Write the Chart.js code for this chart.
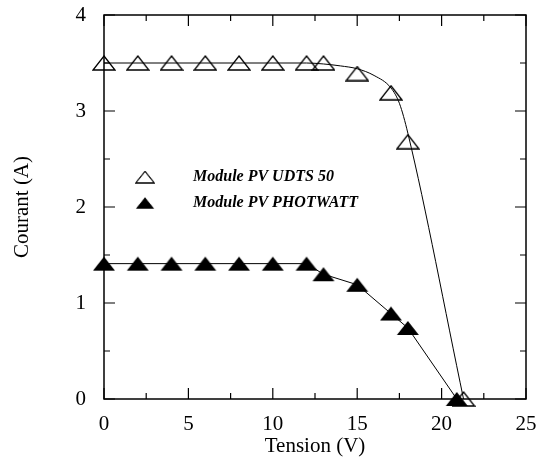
<!DOCTYPE html>
<html>
<head>
<meta charset="utf-8">
<script src="https://cdn.jsdelivr.net/npm/chart.js@4.4.0/dist/chart.umd.min.js"></script>
<style>
  html, body { margin: 0; padding: 0; background: #fff; }
</style>
</head>
<body>
<canvas id="chart" width="538" height="459"></canvas>
<script>
// measured points, Module PV UDTS 50 (open triangles)
const udtsV = [0, 2, 4, 6, 8, 10, 12, 13, 15, 17, 18, 21.3];
const udtsI = [3.5, 3.5, 3.5, 3.5, 3.5, 3.5, 3.5, 3.5, 3.39, 3.19, 2.68, 0];
// fitted curve drawn through the UDTS points
const udtsFitV = [0, 12, 13, 14, 15, 16, 17, 17.5, 18, 21.3];
const udtsFitI = [3.5, 3.5, 3.49, 3.47, 3.44, 3.37, 3.24, 3.08, 2.77, 0];
// measured points, Module PV PHOTWATT (filled triangles)
const photV = [0, 2, 4, 6, 8, 10, 12, 13, 15, 17, 18, 20.9];
const photI = [1.41, 1.41, 1.41, 1.41, 1.41, 1.41, 1.41, 1.3, 1.19, 0.89, 0.74, 0];

const seriesLabels = ['Module PV UDTS 50', 'Module PV PHOTWATT'];
const xMin = 0, xMax = 25, xStep = 5, xMinorStep = 2.5;
const yMin = 0, yMax = 4, yStep = 1, yMinorStep = 0.5;

const serif = "'Liberation Serif', 'Times New Roman', serif";

// triangle marker images
function triangle(w, h, filled) {
    const c = document.createElement('canvas');
    c.width = w;
    c.height = h;
    const g = c.getContext('2d');
    g.beginPath();
    g.moveTo(w / 2, 1);
    g.lineTo(w - 1, h - 1);
    g.lineTo(1, h - 1);
    g.closePath();
    if (filled) {
        g.fillStyle = '#000';
        g.fill();
    } else {
        g.strokeStyle = '#000';
        g.lineWidth = 1.3;
        g.stroke();
    }
    return c;
}
const openTri = triangle(24, 16, false);
const fullTri = triangle(24, 16, true);

const toPoints = (xs, ys) => xs.map((v, i) => ({ x: v, y: ys[i] }));

// box + inward ticks on all four sides
const framePlugin = {
    id: 'frame',
    afterDatasetsDraw(chart) {
        const { ctx, chartArea: a, scales: { x, y } } = chart;
        ctx.save();
        ctx.strokeStyle = '#000';
        ctx.lineWidth = 1.5;
        ctx.strokeRect(a.left, a.top, a.right - a.left, a.bottom - a.top);
        ctx.lineWidth = 1.2;
        ctx.beginPath();
        for (let v = xMin; v <= xMax + 1e-9; v += xMinorStep) {
            const px = x.getPixelForValue(v);
            const len = Math.abs(v % xStep) < 1e-9 ? 11 : 6;
            ctx.moveTo(px, a.bottom); ctx.lineTo(px, a.bottom - len);
            ctx.moveTo(px, a.top); ctx.lineTo(px, a.top + len);
        }
        for (let v = yMin; v <= yMax + 1e-9; v += yMinorStep) {
            const py = y.getPixelForValue(v);
            const len = Math.abs(v % yStep) < 1e-9 ? 11 : 6;
            ctx.moveTo(a.left, py); ctx.lineTo(a.left + len, py);
            ctx.moveTo(a.right, py); ctx.lineTo(a.right - len, py);
        }
        ctx.stroke();
        ctx.restore();
    }
};

// legend inside the plot area
const legendPlugin = {
    id: 'insideLegend',
    afterDraw(chart) {
        const { ctx, chartArea: a } = chart;
        const imgs = [openTri, fullTri];
        ctx.save();
        ctx.fillStyle = '#000';
        ctx.font = "italic bold 16px " + serif;
        ctx.textBaseline = 'middle';
        seriesLabels.forEach((label, i) => {
            const cy = a.top + 162 + i * 26;
            ctx.drawImage(imgs[i], a.left + 31, cy - 6.5, 20, 13);
            ctx.fillText(label, a.left + 89, cy);
        });
        ctx.restore();
    }
};

new Chart(document.getElementById('chart'), {
    type: 'scatter',
    data: {
        datasets: [
            {
                label: seriesLabels[0],
                data: toPoints(udtsV, udtsI),
                showLine: false,
                pointStyle: openTri,
                pointRadius: 10,
                clip: false,
            },
            {
                label: 'fit',
                data: toPoints(udtsFitV, udtsFitI),
                showLine: true,
                borderColor: '#000',
                borderWidth: 1,
                pointRadius: 0,
                cubicInterpolationMode: 'monotone',
            },
            {
                label: seriesLabels[1],
                data: toPoints(photV, photI),
                showLine: true,
                borderColor: '#000',
                borderWidth: 1,
                pointStyle: fullTri,
                pointRadius: 10,
                clip: false,
            },
        ],
    },
    options: {
        responsive: false,
        animation: false,
        layout: {
            padding: { top: 15, right: 12, left: 0, bottom: 0 },
        },
        plugins: {
            legend: { display: false },
            tooltip: { enabled: false },
        },
        scales: {
            x: {
                type: 'linear',
                min: xMin,
                max: xMax,
                grid: { display: false },
                border: { display: false },
                ticks: {
                    stepSize: xStep,
                    color: '#000',
                    padding: 5,
                    font: { family: serif, size: 21 },
                },
                title: {
                    display: true,
                    text: 'Tension (V)',
                    color: '#000',
                    padding: { top: 0, bottom: 0 },
                    font: { family: serif, size: 21 },
                },
                afterFit(scale) {
                    scale.height = 60;
                    scale.paddingLeft = 0;
                    scale.paddingRight = 0;
                },
            },
            y: {
                type: 'linear',
                min: yMin,
                max: yMax,
                grid: { display: false },
                border: { display: false },
                ticks: {
                    stepSize: yStep,
                    color: '#000',
                    padding: 10,
                    font: { family: serif, size: 21 },
                },
                title: {
                    display: true,
                    text: 'Courant (A)',
                    color: '#000',
                    padding: { top: 10, bottom: 0 },
                    font: { family: serif, size: 21 },
                },
                afterFit(scale) {
                    scale.width = 104;
                    scale.paddingTop = 0;
                    scale.paddingBottom = 0;
                },
            },
        },
    },
    plugins: [framePlugin, legendPlugin],
});
</script>
</body>
</html>
